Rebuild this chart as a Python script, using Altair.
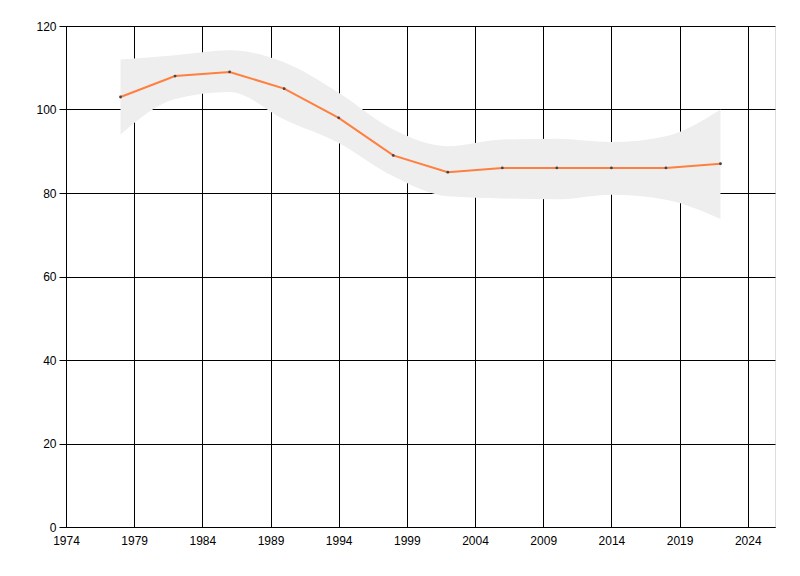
import altair as alt
import pandas as pd

years = [1978, 1982, 1986, 1990, 1994, 1998, 2002, 2006, 2010, 2014, 2018, 2022]
values = [103, 108, 109, 105, 98, 89, 85, 86, 86, 86, 86, 87]
upper = [112, 113, 114.2, 111.3, 104, 95.2, 91.2, 92.8, 93, 92.2, 93.6, 100]
lower = [94, 102.5, 104.2, 97.6, 92, 84, 79.2, 78.7, 78.5, 79.6, 78.4, 73.8]
x_ticks = [1974, 1979, 1984, 1989, 1994, 1999, 2004, 2009, 2014, 2019, 2024]
y_ticks = [0, 20, 40, 60, 80, 100, 120]

df = pd.DataFrame({"year": years, "value": values, "upper": upper, "lower": lower})

xs = alt.Scale(domain=[1974, 2026], nice=False, zero=False)
ys = alt.Scale(domain=[0, 120], nice=False)

x_axis = alt.Axis(values=x_ticks, format="d", title=None, grid=True, gridColor="black",
                  gridOpacity=1, domainColor="black", ticks=False, labelPadding=8,
                  labelFlush=False,
                  labelFont="Liberation Sans", labelFontSize=12, labelColor="black")
y_axis = alt.Axis(values=y_ticks, title=None, grid=True, gridColor="black", gridOpacity=1,
                  domainColor="black", tickColor="black", tickSize=7, labelPadding=3,
                  labelFlush=False,
                  labelFont="Liberation Sans", labelFontSize=12, labelColor="black")

band = alt.Chart(df).mark_area(color="#eeeeee", opacity=1, interpolate="monotone").encode(
    x=alt.X("year:Q", scale=xs, axis=x_axis),
    y=alt.Y("upper:Q", scale=ys, axis=y_axis),
    y2="lower:Q",
)

line = alt.Chart(df).mark_line(color="#ff7f3f", strokeWidth=2).encode(
    x=alt.X("year:Q", scale=xs),
    y=alt.Y("value:Q", scale=ys),
)

pts = alt.Chart(df).mark_circle(color="#444444", size=8, opacity=1).encode(
    x=alt.X("year:Q", scale=xs),
    y=alt.Y("value:Q", scale=ys),
)

chart = alt.layer(band, line, pts).properties(
    width=709, height=501,
    autosize=alt.AutoSizeParams(type="none"),
    padding={"left": 58, "top": 18, "right": 10, "bottom": 30},
).configure_view(stroke=None).configure(background="white")

chart.save("out.html", embed_options={"renderer": "svg", "actions": False})
